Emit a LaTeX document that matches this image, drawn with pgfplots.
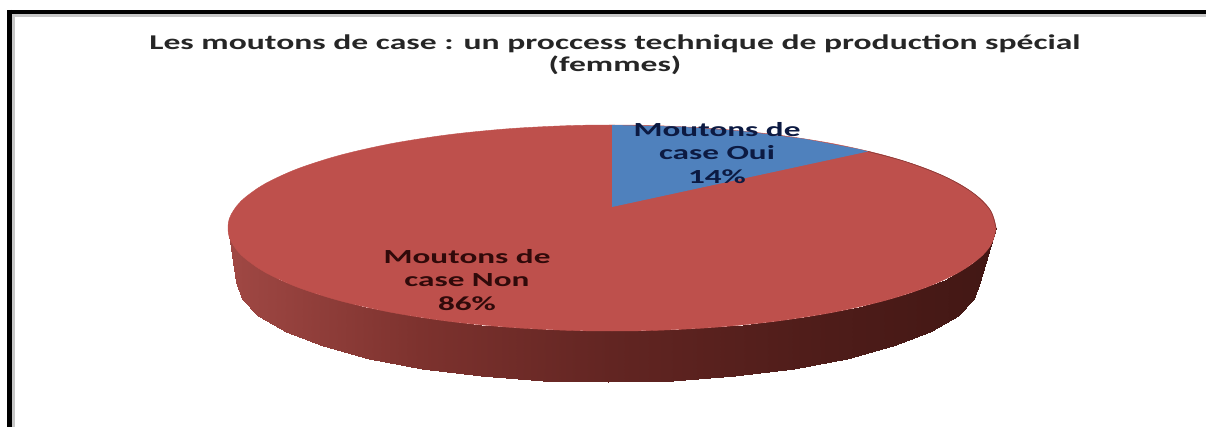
\documentclass[border=0pt]{standalone}
\usepackage{fontspec}
\setmainfont{Carlito}
\newfontfamily\titlefont[FakeStretch=1.6]{Carlito}
\newfontfamily\labelfont[FakeStretch=1.66]{Carlito}
\usepackage{pgfplots}
\pgfplotsset{compat=1.18}
\definecolor{piered}{RGB}{190,80,76}
\definecolor{pieblue}{RGB}{79,129,189}
\definecolor{labelnavy}{RGB}{12,26,66}
\definecolor{labelmaroon}{RGB}{48,10,10}
\begin{document}
\begin{tikzpicture}
\path (0,0) rectangle (1206pt,427pt);
\begin{axis}[
    at={(0,0)},
    anchor=south west,
    scale only axis,
    width=1206pt,
    height=427pt,
    xmin=0, xmax=1206,
    ymin=0, ymax=427,
    y dir=reverse,
    hide axis,
    colormap={sidewall}{rgb255(0cm)=(160,72,68); rgb255(1cm)=(125,50,46); rgb255(2cm)=(98,37,34); rgb255(3cm)=(80,29,26); rgb255(4cm)=(66,23,20)},
]
% frame
\addplot[color=black!22, line width=3pt, forget plot] coordinates {(12,15.5)(1206,15.5)};
\addplot[color=black!22, line width=3pt, forget plot] coordinates {(13.5,14)(13.5,427)};
\addplot[color=black, line width=4.5pt, forget plot] coordinates {(7,12)(1206,12)};
\addplot[color=black, line width=5pt, forget plot] coordinates {(9.5,10)(9.5,427)};

% side wall of the pie
\addplot[surf, shader=interp, mesh/rows=2, point meta=x, forget plot] table {
x y
228 228
233.8 245.9
251.2 263.2
279.5 279.5
317.9 294.2
365.2 306.9
420 317.2
480.7 324.8
545.3 329.4
612 331
678.7 329.4
743.3 324.8
804 317.2
858.8 306.9
906.1 294.2
944.5 279.5
972.8 263.2
990.2 245.9
996 228
236 282
241.7 299.4
258.4 316.2
285.8 332
323 346.3
368.9 358.6
422 368.6
480.8 376
543.4 380.5
608 382
672.6 380.5
735.2 376
794 368.6
847.1 358.6
893 346.3
930.2 332
957.6 316.2
974.3 299.4
980 282
};

% top surface
\addplot[fill=piered, draw=piered, smooth, tension=0.7, forget plot] coordinates {
(996,228)(990.2,210.1)(972.8,192.8)(944.5,176.5)(906.1,161.8)(858.8,149.1)
(804,138.8)(743.3,131.2)(678.7,126.6)(612,125)(545.3,126.6)(480.7,131.2)
(420,138.8)(365.2,149.1)(317.9,161.8)(279.5,176.5)(251.2,192.8)(233.8,210.1)
(228,228)(233.8,245.9)(251.2,263.2)(279.5,279.5)(317.9,294.2)(365.2,306.9)
(420,317.2)(480.7,324.8)(545.3,329.4)(612,331)(678.7,329.4)(743.3,324.8)
(804,317.2)(858.8,306.9)(906.1,294.2)(944.5,279.5)(972.8,263.2)(990.2,245.9)
(996,228)} -- cycle;

% dark rim on the back right
\addplot[color=piered!70!black, line width=0.6pt, smooth, forget plot] coordinates {
(868,151.5)(906.1,161.8)(944.5,176.5)(972.8,192.8)(990.2,210.1)(996,228)};

% blue slice (14 %)
\addplot[fill=pieblue, draw=none, forget plot] coordinates {
(612,207)(612,125)(678.7,126.6)(743.3,131.2)(804,138.8)(858.8,149.1)(868,151.5)} -- cycle;

\node[align=center, font=\titlefont\bfseries\fontsize{21}{22}\selectfont, text=black!85] at (axis cs:615,54.5)
    {Les moutons de case : un proccess technique de production spécial\\(femmes)};
\node[align=center, font=\labelfont\bfseries\fontsize{20}{23.5}\selectfont, text=labelnavy] at (axis cs:717,153)
    {Moutons de\\case Oui\\14\%};
\node[align=center, font=\labelfont\bfseries\fontsize{20}{23.5}\selectfont, text=labelmaroon] at (axis cs:467,280)
    {Moutons de\\case Non\\86\%};
\end{axis}
\end{tikzpicture}
\end{document}
